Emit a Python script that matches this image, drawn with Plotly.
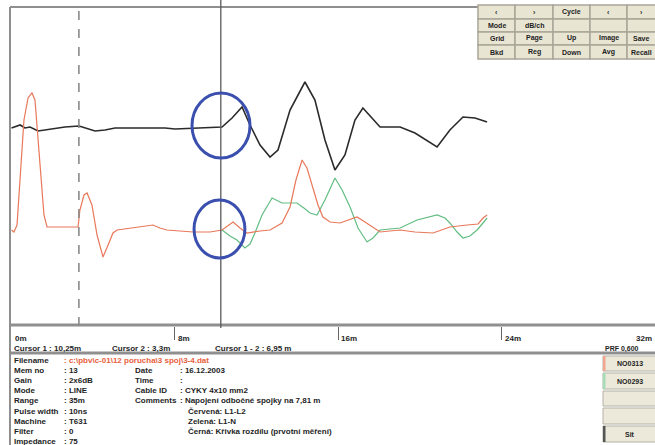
import plotly.graph_objects as go

W, H = 655, 445

# ---------------- data (distance in m, signal level in arbitrary units) ----------------
black_x = [0.00, 0.12, 0.42, 0.66, 0.91, 1.30, 1.64, 2.13, 2.62, 3.31, 3.60, 4.09, 4.58, 5.07,
           5.80, 6.78, 7.52, 8.01, 9.23, 10.31, 10.80, 11.29, 11.68, 12.17, 12.66, 13.05,
           13.64, 14.37, 14.86, 15.35, 15.84, 16.33, 16.82, 17.21, 17.65, 18.05, 19.03,
           19.76, 20.84, 21.47, 22.11, 22.70, 23.29]
black_y = [198, 199, 201, 198, 199, 195, 196, 198, 199, 200, 198, 195, 196, 198,
           198, 198, 198, 197, 198, 199, 208, 219, 201, 181, 169, 176,
           216, 244, 226, 186, 156, 171, 206, 218, 208, 199, 199,
           193, 179, 196, 209, 208, 204]

red_x = [0.00, 0.12, 0.27, 0.42, 0.61, 0.81, 1.00, 1.15, 1.30, 1.44, 1.59, 1.74, 2.38, 3.26,
         3.35, 3.55, 3.70, 3.94, 4.19, 4.48, 4.73, 4.97, 5.17, 5.80, 6.29, 6.93, 7.27, 7.61,
         8.89, 9.72, 10.31, 10.60, 10.85, 11.19, 11.53, 12.17, 12.66, 13.25, 13.64, 13.93,
         14.23, 14.47, 14.76, 15.01, 15.25, 15.60, 16.09, 16.58, 16.92, 17.31, 18.05, 19.03,
         19.76, 20.64, 21.47, 22.31, 22.85, 23.09, 23.29]
red_y = [96, 94, 101, 146, 206, 228, 233, 226, 186, 146, 111, 99, 99, 99,
         116, 131, 133, 121, 91, 69, 81, 93, 96, 98, 99, 101, 98, 96,
         94, 94, 96, 100, 104, 98, 93, 95, 96, 103, 119, 146,
         166, 158, 139, 121, 109, 104, 103, 107, 109, 104, 94, 96,
         94, 93, 99, 101, 102, 108, 111]

green_x = [10.31, 10.70, 11.04, 11.43, 11.68, 11.92, 12.27, 12.76, 13.25, 13.64, 13.98, 14.32,
           14.62, 14.96, 15.35, 15.84, 16.19, 16.58, 16.97, 17.41, 17.70, 18.05, 19.03, 19.86,
           20.84, 21.23, 21.47, 21.82, 22.11, 22.45, 22.80, 23.09, 23.29]
green_y = [96, 90, 86, 78, 82, 93, 111, 128, 123, 123, 123, 118,
           113, 111, 126, 148, 136, 119, 98, 84, 88, 96, 98, 106,
           111, 108, 103, 94, 88, 90, 96, 103, 108]

cursor1_m = 10.25
cursor2_m = 3.3
tick_vals = [0, 8, 16, 24]
tick_text = ["0m", "8m", "16m", "24m"]
last_tick_text = "32m"

cursor_texts = ["Cursor 1 : 10,25m", "Cursor 2 : 3,3m", "Cursor 1 - 2 : 6,95 m"]

info_labels = ["Filename", "Mem no", "Gain", "Mode", "Range", "Pulse width", "Machine",
               "Filter", "Impedance"]
info_values = [": c:\\pbv\\c-01\\12 porucha\\3 spoj\\3-4.dat", ": 13", ": 2x6dB", ": LINE",
               ": 35m", ": 10ns", ": T631", ": 0", ": 75"]
info2_labels = ["Date", "Time", "Cable ID", "Comments"]
info2_values = [": 16.12.2003", ":", ": CYKY 4x10 mm2", ": Napojení odbočné spojky na 7,81 m"]
comment_lines = ["Červená: L1-L2", "Zelená: L1-N", "Černá: Křivka rozdílu (prvotní měření)"]

menu_rows = [["‹", "›", "Cycle", "‹", "›"],
             ["Mode", "dB/ch", "", "", ""],
             ["Grid", "Page", "Up", "Image", "Save"],
             ["Bkd", "Reg", "Down", "Avg", "Recall"]]
side_buttons = ["NO0313", "NO0293", "", "", "Sit"]
prf_text = "PRF 0,600"

# ---------------- figure ----------------
def px(x):
    return x / W

def py(y):
    return 1 - y / H

FONT = "Liberation Sans, Arial, sans-serif"
TXT = "#1e1e1e"

fig = go.Figure()
fig.add_trace(go.Scatter(x=black_x, y=black_y, mode="lines",
                         line=dict(color="#2b2b2b", width=1.6), hoverinfo="skip"))
fig.add_trace(go.Scatter(x=green_x, y=green_y, mode="lines",
                         line=dict(color="#62bd82", width=1.2), hoverinfo="skip"))
fig.add_trace(go.Scatter(x=red_x, y=red_y, mode="lines",
                         line=dict(color="#e8785a", width=1.2), hoverinfo="skip"))

shapes = []
anns = []

gray = "#8f8f8f"
# plot frame
shapes.append(dict(type="line", xref="paper", yref="paper", x0=px(10), x1=1,
                   y0=py(7), y1=py(7), line=dict(color=gray, width=2)))
shapes.append(dict(type="line", xref="paper", yref="paper", x0=px(10), x1=px(10),
                   y0=py(7), y1=0, line=dict(color=gray, width=2)))
shapes.append(dict(type="line", xref="paper", yref="paper", x0=px(10), x1=1,
                   y0=py(325), y1=py(325), line=dict(color=gray, width=3)))
shapes.append(dict(type="line", xref="paper", yref="paper", x0=px(10), x1=1,
                   y0=py(353), y1=py(353), line=dict(color=gray, width=3)))

# cursors
shapes.append(dict(type="line", xref="x", yref="paper", x0=cursor2_m, x1=cursor2_m,
                   y0=py(326), y1=py(7), line=dict(color="#8a8a8a", width=1.6, dash="dash")))
shapes.append(dict(type="line", xref="x", yref="paper", x0=cursor1_m, x1=cursor1_m,
                   y0=py(328), y1=1, line=dict(color="#5a5a5a", width=1.3)))

# hand-drawn blue circles
shapes.append(dict(type="circle", xref="x", yref="y", x0=8.84, x1=11.68, y0=168, y1=233,
                   line=dict(color="#3b4fae", width=3)))
shapes.append(dict(type="circle", xref="x", yref="y", x0=8.94, x1=11.43, y0=68, y1=126,
                   line=dict(color="#3b4fae", width=3)))

# tick labels
for v, t in zip(tick_vals, tick_text):
    anns.append(dict(x=v, y=py(338), xref="x", yref="paper", text="<b>%s</b>" % t,
                     showarrow=False, xanchor="left", yanchor="middle", xshift=1,
                     font=dict(family=FONT, size=8, color=TXT)))
anns.append(dict(x=px(654), y=py(338), xref="paper", yref="paper",
                 text="<b>%s</b>" % last_tick_text, showarrow=False, xanchor="right",
                 yanchor="middle", font=dict(family=FONT, size=8, color=TXT)))

# cursor readouts
for xx, t in zip([12, 110, 213], cursor_texts):
    anns.append(dict(x=px(xx), y=py(348), xref="paper", yref="paper", text="<b>%s</b>" % t,
                     showarrow=False, xanchor="left", yanchor="middle",
                     font=dict(family=FONT, size=8, color=TXT)))

# info panel
for i, (lab, val) in enumerate(zip(info_labels, info_values)):
    yy = py(360 + 10.2 * i)
    anns.append(dict(x=px(12), y=yy, xref="paper", yref="paper", text="<b>%s</b>" % lab,
                     showarrow=False, xanchor="left", yanchor="middle",
                     font=dict(family=FONT, size=8, color=TXT)))
    anns.append(dict(x=px(62), y=yy, xref="paper", yref="paper", text="<b>%s</b>" % val,
                     showarrow=False, xanchor="left", yanchor="middle",
                     font=dict(family=FONT, size=8, color="#e8603c" if i == 0 else TXT)))
for i, (lab, val) in enumerate(zip(info2_labels, info2_values)):
    yy = py(370.2 + 10.2 * i)
    anns.append(dict(x=px(133), y=yy, xref="paper", yref="paper", text="<b>%s</b>" % lab,
                     showarrow=False, xanchor="left", yanchor="middle",
                     font=dict(family=FONT, size=8, color=TXT)))
    anns.append(dict(x=px(178), y=yy, xref="paper", yref="paper", text="<b>%s</b>" % val,
                     showarrow=False, xanchor="left", yanchor="middle",
                     font=dict(family=FONT, size=8, color=TXT)))
for i, t in enumerate(comment_lines):
    yy = py(411 + 10.2 * i)
    anns.append(dict(x=px(186), y=yy, xref="paper", yref="paper", text="<b>%s</b>" % t,
                     showarrow=False, xanchor="left", yanchor="middle",
                     font=dict(family=FONT, size=8, color=TXT)))

# top-right menu grid
col_edges = [478, 515, 553, 590, 627, 664]
row_edges = [5, 19, 32, 45, 59]
for r, row in enumerate(menu_rows):
    for c, t in enumerate(row):
        x0, x1 = col_edges[c], col_edges[c + 1]
        y0, y1 = row_edges[r], row_edges[r + 1]
        shapes.append(dict(type="rect", xref="paper", yref="paper", x0=px(x0), x1=px(x1),
                           y0=py(y1), y1=py(y0), fillcolor="#e8e5d3",
                           line=dict(color="#a9a699", width=1.5), layer="above"))
        if t:
            anns.append(dict(x=px((x0 + min(x1, 655)) / 2), y=py((y0 + y1) / 2), xref="paper",
                             yref="paper", text="<b>%s</b>" % t, showarrow=False,
                             xanchor="center", yanchor="middle",
                             font=dict(family=FONT, size=7, color=TXT)))

# right-bottom buttons
anns.append(dict(x=px(603), y=py(349), xref="paper", yref="paper", text="<b>%s</b>" % prf_text,
                 showarrow=False, xanchor="left", yanchor="middle",
                 font=dict(family=FONT, size=7, color=TXT)))
btn_rows = [(356, 371), (373, 389), (391, 406), (408, 424), (426, 442)]
strip_cols = ["#f2a58f", "#a6dcb8", None, None, "#555555"]
for (y0, y1), t, sc in zip(btn_rows, side_buttons, strip_cols):
    shapes.append(dict(type="rect", xref="paper", yref="paper", x0=px(603), x1=px(662),
                       y0=py(y1), y1=py(y0), fillcolor="#ece9da",
                       line=dict(color="#b3b0a3", width=1)))
    if sc:
        shapes.append(dict(type="rect", xref="paper", yref="paper", x0=px(603), x1=px(605.5),
                           y0=py(y1), y1=py(y0), fillcolor=sc, line=dict(width=0)))
    if t:
        anns.append(dict(x=px(630), y=py((y0 + y1) / 2), xref="paper", yref="paper",
                         text="<b>%s</b>" % t, showarrow=False, xanchor="center",
                         yanchor="middle", font=dict(family=FONT, size=7, color=TXT)))

fig.update_layout(
    width=W, height=H,
    margin=dict(l=0, r=0, t=0, b=0),
    paper_bgcolor="white", plot_bgcolor="white",
    showlegend=False,
    shapes=shapes, annotations=anns,
    xaxis=dict(domain=[px(10), 1], range=[(10 - 11.5) / 20.42, (655 - 11.5) / 20.42],
               showgrid=False, zeroline=False, showline=False,
               tickmode="array", tickvals=[8, 16, 24], ticktext=["", "", ""],
               ticks="outside", ticklen=13, tickwidth=1, tickcolor="#666",
               showticklabels=False, fixedrange=True),
    yaxis=dict(domain=[py(326), py(7)], range=[0, 319], showgrid=False, zeroline=False,
               showline=False, showticklabels=False, ticks="", fixedrange=True),
)

fig.write_html("out.html", config={"displayModeBar": False},
               post_script="document.body.style.margin='0px';document.body.style.overflow='hidden';")
